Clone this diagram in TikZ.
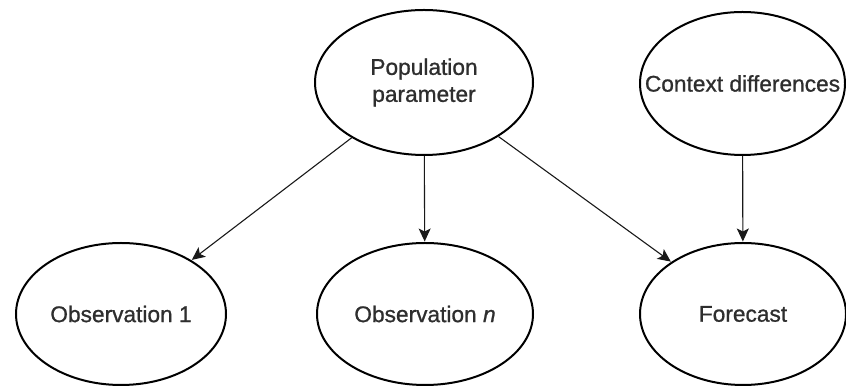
\documentclass[tikz,border=0pt]{standalone}
\usepackage{fontspec}
\setmainfont{Liberation Sans}
\newfontfamily\labelfont[FakeBold=0.9]{Liberation Sans}
\usetikzlibrary{shapes.geometric,arrows.meta}
\begin{document}
\begin{tikzpicture}[x=1pt,y=1pt,
  oval/.style={ellipse,draw=black,line width=2pt,inner sep=0pt,fill=white},
  lbl/.style={align=center,text=black!82,font=\labelfont\fontsize{22.7}{27}\selectfont},
  link/.style={draw=black!90,line width=1.1pt,-{Stealth[length=13pt,width=12pt,inset=3pt]},shorten >=0.5pt}]
  \useasboundingbox (0,0) rectangle (846,387);
  % upper row
  \node[oval,minimum width=218pt,minimum height=145pt,
        label={[lbl]center:Population\\parameter}] (pop) at (424,304.5) {};
  \node[oval,minimum width=205pt,minimum height=143pt,
        label={[lbl]center:Context differences}] (ctx) at (742.5,303.5) {};
  % lower row
  \node[oval,minimum width=210pt,minimum height=142pt,
        label={[lbl]center:Observation 1}] (obs1) at (121,73) {};
  \node[oval,minimum width=216pt,minimum height=142pt,
        label={[lbl]center:Observation \textit{n}}] (obsn) at (425,73) {};
  \node[oval,minimum width=206pt,minimum height=142pt,
        label={[lbl]center:Forecast}] (fc) at (743,73) {};
  % dependencies
  \draw[link] (pop) -- (obs1);
  \draw[link] (pop) -- (obsn);
  \draw[link] (pop) -- (fc);
  \draw[link] (ctx) -- (fc);
\end{tikzpicture}
\end{document}
